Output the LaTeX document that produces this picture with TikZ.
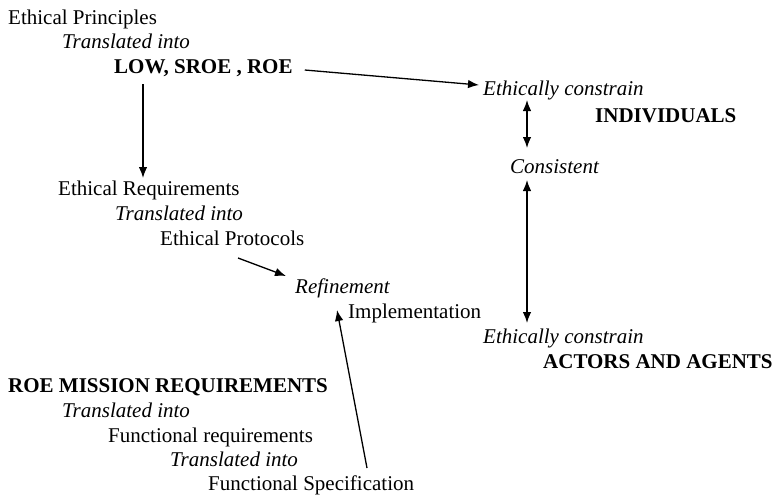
\documentclass[tikz,border=0pt]{standalone}
\usepackage{fontspec}
\setmainfont{Liberation Serif}
\usetikzlibrary{arrows.meta}
\begin{document}
\begin{tikzpicture}[x=1pt,y=-1pt,
  txt/.style={anchor=base west,inner sep=0pt,font=\fontsize{21}{25}\selectfont},
  itx/.style={txt,font=\fontsize{21}{25}\selectfont\itshape},
  bfx/.style={txt,font=\fontsize{21}{25}\selectfont\bfseries},
  tip/.style={Latex[length=11pt,width=8.5pt]},
  link/.style={line width=1.3pt,-{Latex[length=11pt,width=8.5pt]}},
  dlink/.style={line width=1.3pt,{Latex[length=11pt,width=8.5pt]}-{Latex[length=11pt,width=8.5pt]}}]
\useasboundingbox (0,0) rectangle (776,496);
% upper chain
\node[txt] (ep)  at (8,24)   {Ethical Principles};
\node[itx] (t1)  at (62,48)  {Translated into};
\node[bfx] (low) at (114,73) {LOW, SROE , ROE};
\node[txt] (er)  at (58,195) {Ethical Requirements};
\node[itx] (t2)  at (115,220){Translated into};
\node[txt] (epr) at (160,245){Ethical Protocols};
\node[itx] (ref) at (295,293){Refinement};
\node[txt] (imp) at (348,318){Implementation};
% right column
\node[itx] (ec1) at (483,95)  {Ethically constrain};
\node[bfx] (ind) at (595,122) {INDIVIDUALS};
\node[itx] (con) at (510,173) {Consistent};
\node[itx] (ec2) at (483,343) {Ethically constrain};
\node[bfx] (act) at (543,368) {ACTORS AND AGENTS};
% lower chain
\node[bfx] (rmr) at (8,392)   {ROE MISSION REQUIREMENTS};
\node[itx] (t3)  at (62,417)  {Translated into};
\node[txt] (fr)  at (108,442) {Functional requirements};
\node[itx] (t4)  at (170,466) {Translated into};
\node[txt] (fs)  at (208,490) {Functional Specification};
% connectors (yshift is upward on the page)
\draw[link] ([xshift=12pt,yshift=3pt]low.base east) -- ([xshift=-4pt,yshift=10pt]ec1.base west);
\draw[link] ([xshift=29pt,yshift=-11pt]low.base west) -- ([xshift=85pt,yshift=17pt]er.base west);
\draw[dlink] ([xshift=44pt,yshift=-5pt]ec1.base west) -- ([xshift=17pt,yshift=25pt]con.base west);
\draw[dlink] ([xshift=17pt,yshift=-7pt]con.base west) -- ([xshift=44pt,yshift=20pt]ec2.base west);
\draw[link] ([xshift=78pt,yshift=-13pt]epr.base west) -- ([xshift=-9pt,yshift=17pt]ref.base west);
\draw[link] ([xshift=159pt,yshift=22pt]fs.base west) -- ([xshift=-11pt,yshift=8pt]imp.base west);
\end{tikzpicture}
\end{document}
